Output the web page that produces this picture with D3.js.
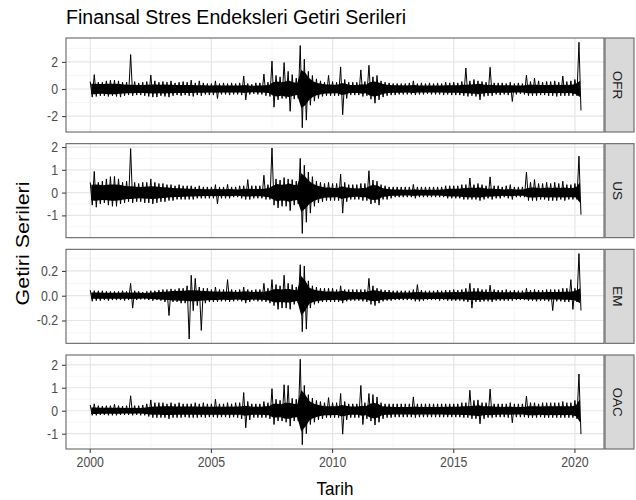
<!DOCTYPE html>
<html>
<head>
<meta charset="utf-8">
<script src="https://cdnjs.cloudflare.com/ajax/libs/d3/7.8.5/d3.min.js"></script>
<style>
body { margin: 0; background: #fff; }
svg { font-family: "Liberation Sans", Arial, sans-serif; }
</style>
</head>
<body>
<svg width="636" height="500"></svg>
<script>
// two-month periods from Jan 2000 to Apr 2020:
// *Hi / *Lo = highest and lowest return seen in the period,
// *Core = half-width of the dense band most days fall in
const startYear = 2000, perYear = 6
const names = ["OFR", "US", "EM", "OAC"]

const ofrHi = [
  0.55,1.06,0.5,0.5,0.6,0.65,  0.65,0.6,0.5,0.5,2.54,0.55,  0.45,0.5,0.55,1.03,0.6,0.5,
  0.55,0.5,0.6,0.45,0.5,0.55,  0.5,0.65,0.45,0.6,0.45,0.4,  0.4,0.6,0.4,0.45,0.4,0.45,
  0.4,0.45,0.96,0.4,0.35,0.45, 0.45,1.1,0.5,2.06,1.0,0.9,   1.95,1.3,1.06,0.8,3.21,2.2,
  1.3,1.0,0.75,0.6,0.5,1.0,    0.55,0.5,1.63,0.7,0.5,0.5,   0.5,1.41,0.55,1.75,0.9,1.0,
  0.6,0.5,0.45,0.4,0.4,0.4,    0.4,0.45,0.6,0.4,0.45,0.4,   0.45,0.4,0.45,0.4,0.5,0.45,
  0.5,0.45,0.55,1.55,0.6,0.7,  0.6,0.55,0.5,1.6,0.45,0.45,  0.45,0.4,0.5,0.4,0.45,0.4,
  1.02,0.55,0.8,0.6,0.5,0.55,  0.55,0.6,0.5,0.96,0.55,0.6,  0.7,3.45]
const ofrLo = [
  -0.6,-0.55,-0.5,-0.5,-0.55,-0.5,  -0.55,-0.6,-0.5,-0.45,-0.5,-0.45,  -0.45,-0.5,-0.55,-0.6,-0.6,-0.5,
  -0.55,-0.6,-0.5,-0.45,-0.5,-0.45, -0.5,-0.55,-0.45,-0.5,-0.4,-0.45,  -0.45,-0.7,-0.4,-0.4,-0.45,-0.4,
  -0.4,-0.45,-0.8,-0.4,-0.35,-0.4,  -0.4,-0.5,-0.55,-1.34,-0.8,-0.7,   -0.7,-1.65,-0.75,-0.7,-2.86,-2.3,
  -1.2,-0.9,-0.7,-0.55,-0.5,-0.5,   -0.5,-0.5,-1.9,-0.7,-0.45,-0.45,   -0.45,-0.55,-0.5,-0.75,-1.05,-0.8,
  -0.6,-0.5,-0.45,-0.45,-0.4,-0.4,  -0.4,-0.4,-0.45,-0.4,-0.4,-0.35,   -0.4,-0.4,-0.4,-0.45,-0.4,-0.45,
  -0.45,-0.45,-0.5,-0.55,-0.5,-0.55,-0.8,-0.55,-0.5,-0.5,-0.4,-0.45,   -0.4,-0.45,-0.92,-0.4,-0.35,-0.4,
  -0.5,-0.5,-0.5,-0.45,-0.45,-0.5,  -0.5,-0.55,-0.5,-0.5,-0.5,-0.5,    -0.5,-1.58]
const ofrCore = [
  0.38,0.38,0.36,0.36,0.38,0.38,  0.38,0.36,0.34,0.32,0.32,0.3,   0.3,0.3,0.32,0.34,0.34,0.32,
  0.34,0.32,0.32,0.3,0.3,0.3,     0.3,0.3,0.28,0.28,0.27,0.26,    0.26,0.28,0.26,0.25,0.25,0.25,
  0.25,0.26,0.3,0.26,0.24,0.25,   0.25,0.28,0.3,0.5,0.55,0.5,     0.55,0.6,0.5,0.45,1.4,1.2,
  0.8,0.55,0.45,0.38,0.34,0.34,   0.32,0.32,0.45,0.38,0.3,0.3,    0.3,0.35,0.32,0.5,0.55,0.5,
  0.38,0.32,0.3,0.28,0.27,0.27,   0.26,0.27,0.3,0.26,0.26,0.25,   0.25,0.25,0.26,0.26,0.28,0.28,
  0.28,0.28,0.32,0.32,0.33,0.35,  0.38,0.34,0.3,0.32,0.28,0.28,   0.27,0.27,0.28,0.26,0.26,0.26,
  0.32,0.32,0.32,0.3,0.3,0.3,     0.3,0.32,0.3,0.32,0.3,0.32,     0.38,0.6]

const usHi = [
  0.45,0.93,0.45,0.5,0.6,0.7,   0.71,0.6,0.45,0.5,1.93,0.45,  0.4,0.45,0.45,0.6,0.45,0.4,
  0.4,0.35,0.35,0.3,0.35,0.3,   0.3,0.3,0.25,0.3,0.25,0.25,   0.25,0.35,0.25,0.25,0.36,0.25,
  0.25,0.3,0.3,0.57,0.3,0.3,    0.3,0.76,0.35,1.96,0.6,0.55,  0.66,0.6,0.57,0.5,1.5,1.2,
  0.9,0.7,0.5,0.45,0.4,0.45,    0.4,0.4,0.81,0.45,0.35,0.35,  0.35,0.4,0.4,0.96,0.55,0.5,
  0.35,0.3,0.25,0.25,0.25,0.25, 0.25,0.25,0.36,0.25,0.25,0.25, 0.25,0.25,0.25,0.25,0.3,0.3,
  0.3,0.3,0.35,0.35,0.64,0.35,  0.4,0.35,0.3,0.69,0.3,0.3,    0.25,0.3,0.35,0.25,0.25,0.25,
  0.9,0.45,0.57,0.4,0.4,0.45,   0.4,0.45,0.4,0.5,0.35,0.35,   0.4,1.6]
const usLo = [
  -0.55,-0.64,-0.5,-0.45,-0.55,-0.6, -0.6,-0.5,-0.45,-0.4,-0.45,-0.4,   -0.4,-0.45,-0.45,-0.5,-0.45,-0.4,
  -0.4,-0.35,-0.35,-0.3,-0.3,-0.3,   -0.3,-0.3,-0.25,-0.25,-0.25,-0.25, -0.25,-0.5,-0.25,-0.25,-0.25,-0.2,
  -0.2,-0.25,-0.3,-0.3,-0.25,-0.25,  -0.25,-0.3,-0.3,-0.55,-0.67,-0.6,  -0.6,-0.79,-0.55,-0.5,-1.79,-1.3,
  -0.9,-0.6,-0.45,-0.4,-0.35,-0.35,  -0.35,-0.35,-0.9,-0.4,-0.3,-0.3,   -0.3,-0.35,-0.35,-0.5,-0.45,-0.55,
  -0.3,-0.3,-0.25,-0.2,-0.2,-0.2,    -0.2,-0.2,-0.25,-0.2,-0.2,-0.2,    -0.2,-0.2,-0.2,-0.2,-0.25,-0.25,
  -0.25,-0.25,-0.3,-0.3,-0.3,-0.3,   -0.35,-0.3,-0.25,-0.3,-0.25,-0.25, -0.2,-0.25,-0.3,-0.2,-0.2,-0.2,
  -0.35,-0.35,-0.35,-0.3,-0.3,-0.35, -0.35,-0.35,-0.3,-0.35,-0.3,-0.3,  -0.3,-0.97]
const usCore = [
  0.35,0.36,0.34,0.32,0.34,0.36,  0.36,0.34,0.3,0.28,0.28,0.26,   0.25,0.26,0.27,0.28,0.27,0.25,
  0.24,0.22,0.2,0.19,0.19,0.18,   0.17,0.17,0.16,0.16,0.15,0.15,  0.15,0.16,0.15,0.15,0.16,0.15,
  0.14,0.15,0.17,0.17,0.16,0.16,  0.16,0.18,0.2,0.3,0.38,0.35,    0.36,0.4,0.35,0.32,0.85,0.7,
  0.5,0.38,0.3,0.26,0.22,0.22,    0.2,0.2,0.28,0.24,0.2,0.19,     0.18,0.2,0.2,0.3,0.33,0.3,
  0.2,0.17,0.15,0.14,0.14,0.13,   0.13,0.13,0.15,0.13,0.13,0.13,  0.13,0.13,0.13,0.14,0.16,0.17,
  0.17,0.17,0.19,0.2,0.22,0.2,    0.22,0.2,0.17,0.18,0.16,0.16,   0.14,0.15,0.16,0.14,0.14,0.14,
  0.2,0.22,0.22,0.19,0.2,0.22,    0.2,0.22,0.2,0.22,0.2,0.2,      0.22,0.45]

const emHi = [
  0.045,0.04,0.04,0.04,0.035,0.035, 0.035,0.035,0.04,0.035,0.1,0.04,  0.035,0.03,0.035,0.04,0.04,0.045,
  0.05,0.05,0.055,0.05,0.06,0.06,   0.08,0.165,0.14,0.07,0.06,0.06,   0.05,0.07,0.05,0.05,0.13,0.05,
  0.045,0.05,0.07,0.05,0.045,0.05,  0.05,0.1,0.06,0.13,0.09,0.08,     0.165,0.1,0.09,0.07,0.25,0.24,
  0.12,0.08,0.07,0.06,0.06,0.06,    0.06,0.05,0.08,0.05,0.05,0.05,    0.05,0.05,0.05,0.14,0.08,0.06,
  0.05,0.045,0.045,0.04,0.04,0.04,  0.04,0.04,0.05,0.09,0.045,0.04,   0.04,0.04,0.045,0.04,0.045,0.045,
  0.05,0.045,0.05,0.06,0.1,0.06,    0.06,0.05,0.05,0.085,0.05,0.045,  0.045,0.05,0.04,0.045,0.04,0.04,
  0.06,0.045,0.05,0.045,0.045,0.05, 0.05,0.05,0.05,0.06,0.06,0.13,    0.06,0.34]
const emLo = [
  -0.045,-0.04,-0.04,-0.035,-0.04,-0.035, -0.035,-0.035,-0.04,-0.035,-0.1,-0.035, -0.03,-0.03,-0.035,-0.04,-0.035,-0.04,
  -0.05,-0.16,-0.05,-0.05,-0.06,-0.06,    -0.35,-0.12,-0.08,-0.28,-0.06,-0.05,     -0.05,-0.05,-0.045,-0.045,-0.05,-0.045,
  -0.04,-0.045,-0.06,-0.05,-0.04,-0.045,  -0.045,-0.05,-0.06,-0.08,-0.11,-0.1,     -0.1,-0.11,-0.07,-0.06,-0.29,-0.27,
  -0.1,-0.07,-0.06,-0.05,-0.05,-0.05,     -0.05,-0.05,-0.06,-0.045,-0.04,-0.04,    -0.04,-0.045,-0.05,-0.07,-0.08,-0.06,
  -0.045,-0.04,-0.04,-0.035,-0.035,-0.035,-0.035,-0.035,-0.045,-0.045,-0.04,-0.035,-0.035,-0.035,-0.04,-0.035,-0.04,-0.04,
  -0.04,-0.04,-0.045,-0.05,-0.1,-0.05,    -0.05,-0.045,-0.045,-0.05,-0.04,-0.04,   -0.04,-0.04,-0.04,-0.035,-0.035,-0.035,
  -0.04,-0.04,-0.045,-0.04,-0.04,-0.045,  -0.12,-0.045,-0.045,-0.05,-0.05,-0.11,   -0.05,-0.12]
const emCore = [
  0.025,0.025,0.025,0.024,0.024,0.024,  0.024,0.024,0.025,0.024,0.026,0.025,  0.024,0.022,0.024,0.026,0.028,0.03,
  0.032,0.035,0.038,0.038,0.04,0.04,    0.045,0.045,0.045,0.04,0.038,0.036,   0.034,0.035,0.032,0.032,0.034,0.032,
  0.03,0.032,0.036,0.034,0.03,0.032,    0.032,0.034,0.038,0.05,0.055,0.05,    0.055,0.055,0.048,0.042,0.16,0.12,
  0.065,0.05,0.042,0.038,0.035,0.034,   0.034,0.032,0.04,0.034,0.03,0.03,     0.028,0.03,0.03,0.04,0.045,0.04,
  0.032,0.03,0.028,0.026,0.026,0.025,   0.025,0.025,0.028,0.03,0.028,0.026,   0.026,0.026,0.027,0.026,0.028,0.028,
  0.03,0.028,0.03,0.032,0.035,0.034,    0.035,0.032,0.03,0.032,0.03,0.028,    0.028,0.028,0.027,0.027,0.026,0.026,
  0.03,0.028,0.03,0.028,0.028,0.03,     0.03,0.03,0.03,0.032,0.032,0.035,     0.04,0.06]

const oacHi = [
  0.25,0.3,0.22,0.2,0.22,0.22,   0.28,0.22,0.2,0.22,0.65,0.22,  0.22,0.25,0.3,0.47,0.35,0.35,
  0.35,0.3,0.35,0.3,0.35,0.3,    0.3,0.3,0.35,0.3,0.35,0.3,     0.3,0.5,0.3,0.3,0.35,0.3,
  0.35,0.35,0.79,0.4,0.3,0.3,    0.3,0.4,0.35,0.96,0.5,0.45,    1.13,1.1,0.54,0.5,2.24,1.1,
  0.7,0.55,0.45,0.4,0.35,0.57,   0.35,0.35,0.75,0.4,0.3,0.3,    0.3,1.1,0.35,0.75,0.7,0.6,
  0.35,0.3,0.3,0.3,0.3,0.3,      0.3,0.3,0.6,0.3,0.3,0.3,       0.3,0.3,0.3,0.3,0.3,0.3,
  0.3,0.3,0.35,0.35,0.89,0.45,   0.47,0.35,0.35,0.94,0.3,0.3,   0.3,0.3,0.35,0.3,0.3,0.3,
  0.64,0.35,0.35,0.3,0.35,0.35,  0.35,0.35,0.35,0.4,0.35,0.35,  0.45,1.6]
const oacLo = [
  -0.2,-0.2,-0.18,-0.18,-0.2,-0.2,     -0.2,-0.18,-0.18,-0.18,-0.2,-0.18,   -0.2,-0.2,-0.25,-0.3,-0.3,-0.3,
  -0.3,-0.35,-0.3,-0.3,-0.3,-0.28,     -0.3,-0.3,-0.3,-0.28,-0.3,-0.28,     -0.28,-0.3,-0.28,-0.28,-0.3,-0.28,
  -0.3,-0.35,-0.74,-0.4,-0.3,-0.3,     -0.3,-0.3,-0.35,-0.6,-0.45,-0.45,    -0.5,-0.67,-0.45,-0.45,-1.48,-1.0,
  -0.6,-0.5,-0.4,-0.35,-0.3,-0.3,      -0.3,-0.3,-1.02,-0.4,-0.3,-0.3,      -0.3,-0.6,-0.35,-0.45,-0.62,-0.5,
  -0.35,-0.3,-0.3,-0.28,-0.28,-0.28,   -0.28,-0.28,-0.3,-0.28,-0.28,-0.28,  -0.28,-0.28,-0.28,-0.28,-0.28,-0.28,
  -0.28,-0.28,-0.3,-0.3,-0.35,-0.35,   -0.57,-0.35,-0.3,-0.3,-0.28,-0.28,   -0.28,-0.3,-0.52,-0.28,-0.28,-0.28,
  -0.3,-0.3,-0.3,-0.28,-0.3,-0.3,      -0.3,-0.3,-0.3,-0.3,-0.3,-0.3,       -0.35,-1.02]
const oacCore = [
  0.14,0.14,0.13,0.13,0.13,0.13,  0.13,0.13,0.12,0.12,0.13,0.12,  0.12,0.13,0.15,0.17,0.18,0.18,
  0.19,0.19,0.19,0.18,0.18,0.18,  0.18,0.18,0.18,0.17,0.18,0.17,  0.17,0.18,0.17,0.17,0.18,0.17,
  0.18,0.18,0.22,0.2,0.17,0.17,   0.17,0.19,0.2,0.3,0.3,0.28,     0.35,0.35,0.3,0.28,0.9,0.7,
  0.42,0.32,0.26,0.22,0.2,0.2,    0.19,0.19,0.25,0.22,0.18,0.18,  0.18,0.22,0.2,0.3,0.34,0.3,
  0.2,0.18,0.17,0.16,0.16,0.16,   0.16,0.16,0.18,0.16,0.16,0.16,  0.16,0.16,0.16,0.16,0.17,0.17,
  0.17,0.17,0.19,0.19,0.21,0.22,  0.24,0.2,0.19,0.2,0.17,0.17,    0.16,0.17,0.17,0.16,0.16,0.16,
  0.2,0.2,0.2,0.18,0.19,0.2,      0.19,0.2,0.19,0.2,0.19,0.2,     0.24,0.5]

const xTicks = [2000, 2005, 2010, 2015, 2020]
const ofrTicks = [-2, 0, 2]
const usTicks = [-1, 0, 1, 2]
const emTicks = [-0.2, 0, 0.2]
const oacTicks = [-1, 0, 1, 2]

const his = [ofrHi, usHi, emHi, oacHi]
const los = [ofrLo, usLo, emLo, oacLo]
const cores = [ofrCore, usCore, emCore, oacCore]
const tickSets = [ofrTicks, usTicks, emTicks, oacTicks]

const left = 66, right = 604,
      top0 = 38, panelH = 94, step = (355 - 38) / 3,
      stripW = 30, sq = 0.88

const svg = d3.select("svg")

const x = d3.scaleLinear()
  .domain([1999.0, 2021.2])
  .range([left, right])

svg.append("text")
  .attr("x", left).attr("y", 24)
  .attr("font-size", 20)
  .attr("textLength", 340)
  .attr("lengthAdjust", "spacingAndGlyphs")
  .attr("fill", "#000")
  .text("Finansal Stres Endeksleri Getiri Serileri")

names.forEach((name, i) => {
  let top = top0 + i * step, bottom = top + panelH
  let pts = [], band = []
  his[i].forEach((h, k) => {
    let t = startYear + k / perYear
    pts.push({ t: t, v: h })
    pts.push({ t: t + 0.5 / perYear, v: los[i][k] })
    band.push({ t: t + 0.25 / perYear, w: cores[i][k] })
  })
  let ext = d3.extent(pts, d => d.v), pad = (ext[1] - ext[0]) * 0.05
  let y = d3.scaleLinear()
    .domain([ext[0] - pad, ext[1] + pad])
    .range([bottom, top])

  let g = svg.append("g").attr("class", "panel")

  // grid
  let ticks = tickSets[i], dt = ticks[1] - ticks[0]
  let minorY = d3.range(ticks[0] - dt / 2, ext[1] + pad, dt).filter(v => v > y.domain()[0])
  let minorX = [2002.5, 2007.5, 2012.5, 2017.5]
  g.selectAll("line.minx").data(minorX).enter().append("line")
    .attr("x1", d => x(d)).attr("x2", d => x(d)).attr("y1", top).attr("y2", bottom)
    .attr("stroke", "#f2f2f2").attr("stroke-width", 0.7)
  g.selectAll("line.miny").data(minorY).enter().append("line")
    .attr("x1", left).attr("x2", right).attr("y1", d => y(d)).attr("y2", d => y(d))
    .attr("stroke", "#f2f2f2").attr("stroke-width", 0.7)
  g.selectAll("line.majx").data(xTicks).enter().append("line")
    .attr("x1", d => x(d)).attr("x2", d => x(d)).attr("y1", top).attr("y2", bottom)
    .attr("stroke", "#e6e6e6").attr("stroke-width", 1.2)
  g.selectAll("line.majy").data(ticks).enter().append("line")
    .attr("x1", left).attr("x2", right).attr("y1", d => y(d)).attr("y2", d => y(d))
    .attr("stroke", "#e6e6e6").attr("stroke-width", 1.2)

  g.append("path")
    .datum(band)
    .attr("fill", "#000")
    .attr("d", d3.area().x(d => x(d.t)).y0(d => y(-d.w)).y1(d => y(d.w)))

  g.append("path")
    .datum(pts)
    .attr("fill", "none")
    .attr("stroke", "#000")
    .attr("stroke-width", 1)
    .attr("d", d3.line().x(d => x(d.t)).y(d => y(d.v)))

  g.append("rect")
    .attr("x", left).attr("y", top).attr("width", right - left).attr("height", panelH)
    .attr("fill", "none").attr("stroke", "#666").attr("stroke-width", 1.1)

  // strip
  g.append("rect")
    .attr("x", right + 1).attr("y", top).attr("width", stripW - 1).attr("height", panelH)
    .attr("fill", "#d9d9d9").attr("stroke", "#666").attr("stroke-width", 1.1)
  g.append("text")
    .attr("transform", "translate(" + (right + 9) + "," + (top + panelH / 2) + ") rotate(90)")
    .attr("text-anchor", "middle")
    .attr("font-size", 13.5)
    .attr("fill", "#1a1a1a")
    .text(name)

  // y axis
  let fmt = name === "EM" ? d3.format(".1f") : d3.format("d")
  let ax = svg.append("g")
    .attr("transform", "translate(" + left + ",0)")
    .call(d3.axisLeft(y).tickValues(ticks).tickSize(4).tickPadding(4).tickFormat(d => fmt(d).replace("−", "-")))
  ax.select(".domain").remove()
  ax.selectAll("line").attr("stroke", "#444").attr("stroke-width", 1.1)
  ax.selectAll("text")
    .attr("font-size", 14).attr("fill", "#4d4d4d").attr("font-family", null)
    .attr("x", -8 / sq).attr("transform", "scale(" + sq + ",1)")

  if (i === names.length - 1) {
    let bx = svg.append("g")
      .attr("transform", "translate(0," + bottom + ")")
      .call(d3.axisBottom(x).tickValues(xTicks).tickSize(4).tickPadding(4).tickFormat(d3.format("d")))
    bx.select(".domain").remove()
    bx.selectAll("line").attr("stroke", "#444").attr("stroke-width", 1.1)
    bx.selectAll(".tick").each(function(d){
      let tk = d3.select(this).attr("transform", null)
      tk.select("line").attr("x1", x(d)).attr("x2", x(d))
      tk.select("text")
        .attr("font-size", 14).attr("fill", "#4d4d4d").attr("font-family", null)
        .attr("x", x(d) / sq).attr("y", 8).attr("dy", "0.71em")
        .attr("transform", "scale(" + sq + ",1)")
    })
  }
})

svg.append("text")
  .attr("x", (left + right) / 2).attr("y", 495)
  .attr("text-anchor", "middle")
  .attr("font-size", 18)
  .attr("textLength", 37).attr("lengthAdjust", "spacingAndGlyphs")
  .text("Tarih")

svg.append("text")
  .attr("transform", "translate(29," + ((top0 + top0 + 3 * step + panelH) / 2) + ") rotate(-90)")
  .attr("text-anchor", "middle")
  .attr("font-size", 18)
  .attr("textLength", 124).attr("lengthAdjust", "spacingAndGlyphs")
  .text("Getiri Serileri")
</script>
</body>
</html>
